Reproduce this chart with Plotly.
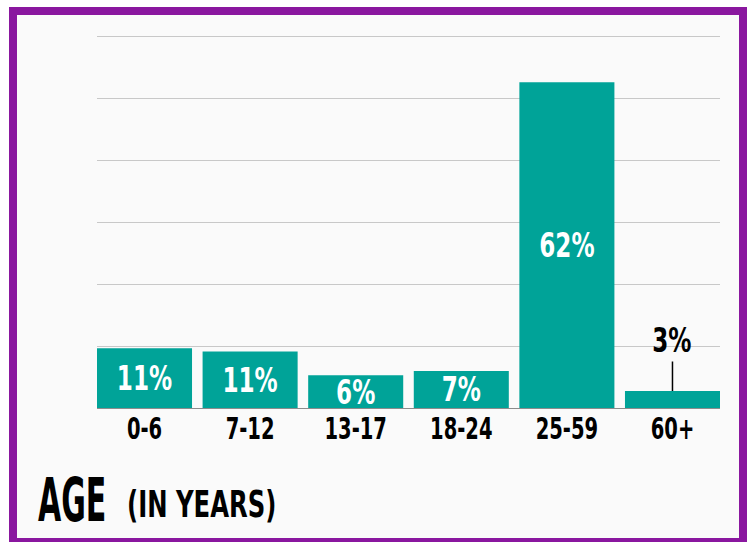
import plotly.graph_objects as go

# ---- data ----
categories = ["0-6", "7-12", "13-17", "18-24", "25-59", "60+"]
shares = [11.3, 10.7, 6.2, 7.0, 61.6, 3.2]   # percent
y_max = 70.3
n_grid = 6
title_main = "AGE"
title_sub = "(IN YEARS)"

# ---- style ----
TEAL = "#00a398"
PURPLE = "#8a179f"
BG = "#fafafa"
FONT = "DejaVu Sans, sans-serif"

labels = [f"{round(v)}%" for v in shares]
inside_text = labels[:-1] + [""]
positions = ["inside"] * (len(shares) - 1) + ["none"]

fig = go.Figure()
fig.add_trace(go.Bar(
    x=categories, y=shares,
    marker=dict(color=TEAL, line=dict(width=0)),
    text=inside_text, textposition=positions,
    insidetextanchor="middle", constraintext="none",
    textfont=dict(family=FONT, size=34, color="white", weight="bold"),
    hoverinfo="skip",
))

fig.add_annotation(
    x=categories[-1], y=shares[-1], xref="x", yref="y",
    text=labels[-1], showarrow=True, arrowhead=0, arrowwidth=1.5,
    arrowcolor="black", ax=0, ay=-51,
    font=dict(family=FONT, size=34, color="black", weight="bold"),
)

L, R, T, B = 97, 32, 35, 134
W, H = 752, 542
pw, ph = W - L - R, H - T - B

def px_x(p):
    return (p - L) / pw

def px_y(p):
    return (H - B - p) / ph

fig.add_annotation(
    xref="paper", yref="paper", x=px_x(36), y=px_y(500),
    xanchor="left", yanchor="middle", showarrow=False,
    text=title_main, font=dict(family=FONT, size=60, color="black", weight="bold"),
)
fig.add_annotation(
    xref="paper", yref="paper", x=px_x(125), y=px_y(504),
    xanchor="left", yanchor="middle", showarrow=False,
    text=title_sub, font=dict(family=FONT, size=38, color="black", weight="bold"),
)

fig.add_shape(
    type="rect", xref="paper", yref="paper", layer="below",
    x0=px_x(13), x1=px_x(743), y0=px_y(542), y1=px_y(11),
    line=dict(color=PURPLE, width=8), fillcolor=BG,
)

fig.update_layout(
    width=W, height=H,
    margin=dict(l=L, r=R, t=T, b=B, pad=0),
    paper_bgcolor="white", plot_bgcolor="rgba(0,0,0,0)",
    bargap=0.1, showlegend=False,
    font=dict(family=FONT),
)
fig.update_xaxes(
    type="category", range=[-0.45, len(categories) - 0.55],
    showline=True, linecolor="#8c8c8c", linewidth=1,
    showgrid=False, ticks="", ticklabelstandoff=-7,
    tickfont=dict(family=FONT, size=31, color="black", weight="bold"),
    fixedrange=True,
)
fig.update_yaxes(
    range=[0, y_max * 1.003], tickvals=[y_max * i / n_grid for i in range(1, n_grid + 1)],
    showticklabels=False, showgrid=True, gridcolor="#c8c8c8", gridwidth=1,
    zeroline=False, showline=False, fixedrange=True,
)

# condense the heavy sans glyphs horizontally (poster-style narrow lettering)
squeeze_js = """
document.body.style.margin = '0';
var gd = document.getElementById('{plot_id}');
function squeeze(el, s, anchorLeft) {
  var bb = el.getBBox();
  var cx = anchorLeft ? bb.x : bb.x + bb.width / 2;
  var t = el.getAttribute('transform') || '';
  el.setAttribute('transform', t + ' translate(' + cx + ',0) scale(' + s + ',1) translate(' + (-cx) + ',0)');
}
gd.querySelectorAll('.bartext').forEach(function (el) { squeeze(el, 0.68, false); });
gd.querySelectorAll('.xtick text').forEach(function (el) { squeeze(el, 0.63, false); });
var ann = gd.querySelectorAll('.annotation-text');
var fac = [0.68, 0.50, 0.64];
ann.forEach(function (el, i) { squeeze(el, fac[i], i > 0); });
"""

fig.write_html("out.html", config={"displayModeBar": False}, post_script=squeeze_js)
